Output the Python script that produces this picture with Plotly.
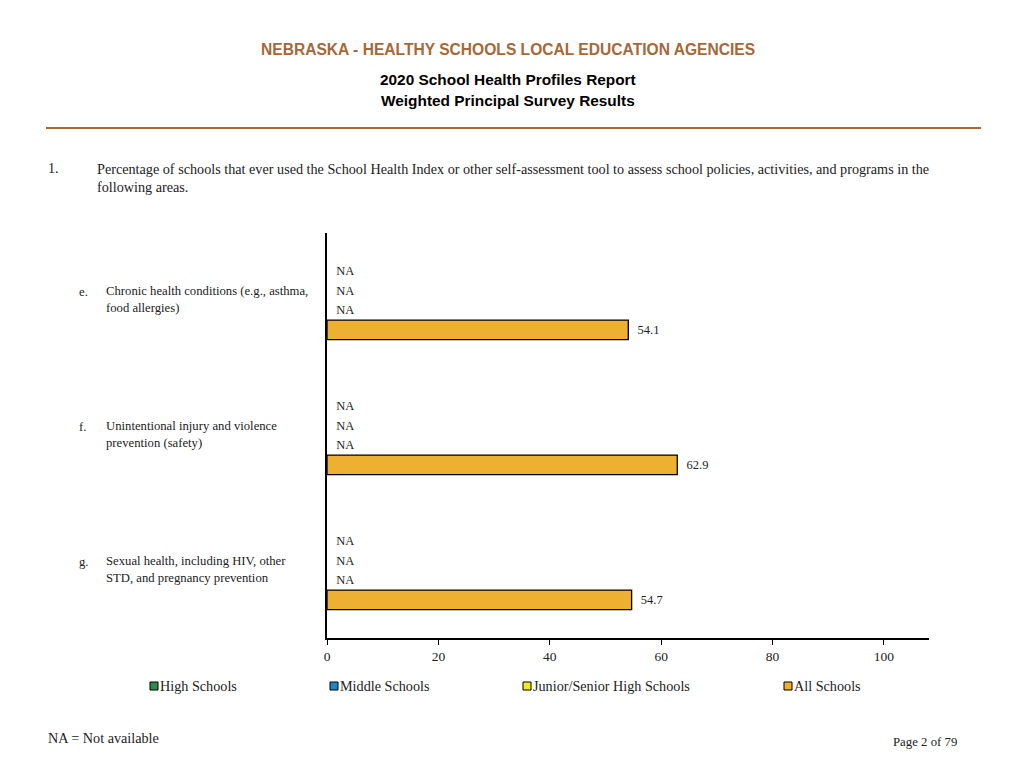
import plotly.graph_objects as go

# ---- data ----
categories = ["e.", "f.", "g."]
descriptions = [
    "Chronic health conditions (e.g., asthma,<br>food allergies)",
    "Unintentional injury and violence<br>prevention (safety)",
    "Sexual health, including HIV, other<br>STD, and pregnancy prevention",
]
series_names = ["High Schools", "Middle Schools", "Junior/Senior High Schools", "All Schools"]
high_schools = [None, None, None]
middle_schools = [None, None, None]
junior_senior = [None, None, None]
all_schools = [54.1, 62.9, 54.7]
series_values = [high_schools, middle_schools, junior_senior, all_schools]
series_colors = ["#2E8B4A", "#1E88C8", "#F2EC1E", "#EDB030"]
x_ticks = [0, 20, 40, 60, 80, 100]

W, H = 1024, 768
L, R, T, B = 327, 95, 233, 130
PW, PH = W - L - R, H - T - B


def px(x):
    return (x - L) / PW


def py(y):
    return (H - B - y) / PH


SERIF = "Liberation Serif"
SANS = "Liberation Sans"
BROWN = "#A5683A"
TXT = "#222"

fig = go.Figure()
for name, vals, col in zip(series_names, series_values, series_colors):
    xs = [v if v is not None else 0 for v in vals]
    txt = ["\u00a0\u00a0" + (f"{v:.1f}" if v is not None else "NA") for v in vals]
    lw = [1.3 if v is not None else 0 for v in vals]
    fig.add_trace(go.Bar(
        y=categories, x=xs, name=name, orientation="h",
        marker=dict(color=col, line=dict(color="black", width=lw)),
        text=txt, textposition="outside", cliponaxis=False,
        textfont=dict(family=SERIF, size=12.5, color=TXT),
        showlegend=False, hoverinfo="x+name",
    ))

annotations = []
shapes = []
# titles
annotations.append(dict(text="<b>NEBRASKA - HEALTHY SCHOOLS LOCAL EDUCATION AGENCIES</b>",
                        x=px(508), y=py(50), xref="paper", yref="paper", showarrow=False,
                        font=dict(family=SANS, size=15.6, color=BROWN), xanchor="center", yanchor="middle"))
annotations.append(dict(text="<b>2020 School Health Profiles Report</b>",
                        x=px(508), y=py(79), xref="paper", yref="paper", showarrow=False,
                        font=dict(family=SANS, size=15.4, color="black"), xanchor="center", yanchor="middle"))
annotations.append(dict(text="<b>Weighted Principal Survey Results</b>",
                        x=px(508), y=py(100), xref="paper", yref="paper", showarrow=False,
                        font=dict(family=SANS, size=15.4, color="black"), xanchor="center", yanchor="middle"))
shapes.append(dict(type="line", xref="paper", yref="paper", x0=px(46), x1=px(981), y0=py(128), y1=py(128),
                   line=dict(color=BROWN, width=2)))
# question
annotations.append(dict(text="1.", x=px(46), y=py(168), xref="paper", yref="paper", showarrow=False,
                        font=dict(family=SERIF, size=14.2, color=TXT), xanchor="left", yanchor="middle"))
annotations.append(dict(text="Percentage of schools that ever used the School Health Index or other self-assessment tool to assess school policies, activities, and programs in the<br>following areas.",
                        x=px(95), y=py(159), xref="paper", yref="paper", showarrow=False, align="left",
                        font=dict(family=SERIF, size=14.2, color=TXT), xanchor="left", yanchor="top"))
# category labels
for cat, desc in zip(categories, descriptions):
    annotations.append(dict(text=cat, x=px(77), y=cat, xref="paper", yref="y", showarrow=False,
                            font=dict(family=SERIF, size=12.7, color=TXT), xanchor="left",
                            yanchor="middle", yshift=9))
    annotations.append(dict(text=desc, x=px(104), y=cat, xref="paper", yref="y", showarrow=False,
                            align="left", font=dict(family=SERIF, size=12.7, color=TXT),
                            xanchor="left", yanchor="middle", yshift=1))
# legend (manual)
leg_x = [150, 330, 523, 784]
for name, col, lx in zip(series_names, series_colors, leg_x):
    shapes.append(dict(type="rect", xref="paper", yref="paper", x0=px(lx), x1=px(lx + 8),
                       y0=py(690), y1=py(682), fillcolor=col, line=dict(color="black", width=1)))
    annotations.append(dict(text=name, x=px(lx + 8), y=py(686), xref="paper", yref="paper",
                            showarrow=False, font=dict(family=SERIF, size=14.2, color=TXT),
                            xanchor="left", yanchor="middle"))
# footer
annotations.append(dict(text="NA = Not available", x=px(46), y=py(738), xref="paper", yref="paper",
                        showarrow=False, font=dict(family=SERIF, size=14.2, color=TXT),
                        xanchor="left", yanchor="middle"))
annotations.append(dict(text="Page 2 of 79", x=px(959), y=py(742), xref="paper", yref="paper",
                        showarrow=False, font=dict(family=SERIF, size=12.8, color=TXT),
                        xanchor="right", yanchor="middle"))

fig.update_layout(
    width=W, height=H, margin=dict(l=L, r=R, t=T, b=B),
    paper_bgcolor="white", plot_bgcolor="white",
    barmode="group", bargap=0.42, bargroupgap=0,
    annotations=annotations, shapes=shapes,
    xaxis=dict(range=[0, 108.1], tickvals=x_ticks, ticks="outside", ticklen=5, tickcolor="black",
               showline=True, linecolor="black", linewidth=1.5, showgrid=False, zeroline=False,
               tickfont=dict(family=SERIF, size=13.5, color=TXT)),
    yaxis=dict(autorange="reversed", showticklabels=False, showline=True, linecolor="black",
               linewidth=1.5, showgrid=False, ticks=""),
    font=dict(family=SERIF),
)

fig.write_html("out.html", config={"displayModeBar": False},
               post_script="document.body.style.margin='0';document.body.style.overflow='hidden';")
